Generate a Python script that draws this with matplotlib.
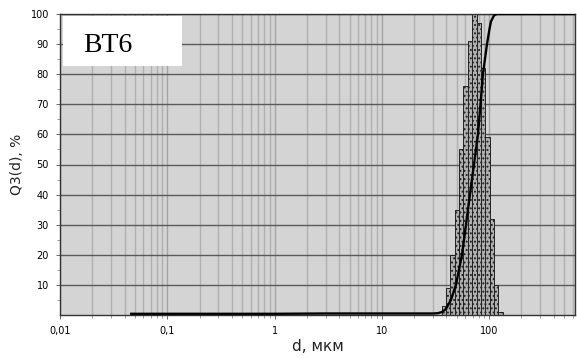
import matplotlib
matplotlib.use("Agg")
import matplotlib.pyplot as plt
from matplotlib.ticker import LogLocator, FixedLocator, NullFormatter, FuncFormatter
import numpy as np

# ---- data ----
bin_edges = [36.1, 39.6, 43.5, 47.8, 52.5, 57.6, 63.3, 69.5, 76.3, 83.8, 92.0, 101.0, 111.0, 122.0, 134.0]
bin_heights = [3, 9, 20, 35, 55, 76, 91, 100, 97, 82, 59, 32, 10, 1]

cum_d = [0.045, 0.1, 1.0, 3.0, 10.0, 30.0, 33.3, 36.3, 39.6, 44.0, 49.0, 55.8, 60.8, 66.2, 72.2,
         78.6, 83.0, 87.5, 95.4, 100.7, 103.9, 110.8, 118.0, 130.0, 631.0]
cum_q = [0.4, 0.4, 0.4, 0.5, 0.5, 0.5, 0.6, 1.0, 2.0, 5.0, 10.0, 20.0, 30.0, 40.0, 50.0,
         60.0, 70.0, 80.0, 90.0, 95.0, 97.5, 99.5, 100.0, 100.0, 100.0]

x_ticks = [0.01, 0.1, 1, 10, 100]
x_labels = ["0,01", "0,1", "1", "10", "100"]
y_ticks = [10, 20, 30, 40, 50, 60, 70, 80, 90, 100]

plt.rcParams['hatch.linewidth'] = 0.9

fig = plt.figure(figsize=(5.77, 3.58), dpi=100)
ax = fig.add_axes([60/577, 43/358, 515/577, 301/358])
ax.set_facecolor('#d4d4d4')

ax.set_xscale('log')
ax.set_xlim(0.01, 631)
ax.set_ylim(0, 100)

# grid
ax.xaxis.set_major_locator(FixedLocator(x_ticks))
ax.xaxis.set_minor_locator(LogLocator(base=10, subs=np.arange(2, 10), numticks=20))
ax.xaxis.set_major_formatter(FuncFormatter(lambda v, p: x_labels[x_ticks.index(v)] if v in x_ticks else ""))
ax.xaxis.set_minor_formatter(NullFormatter())
ax.yaxis.set_major_locator(FixedLocator(y_ticks))
ax.yaxis.set_minor_locator(FixedLocator(np.arange(5, 100, 5)))

ax.grid(True, which='major', axis='x', color='#a4a4a4', lw=1.0)
ax.grid(True, which='minor', axis='x', color='#b0b0b0', lw=1.0)
ax.grid(True, which='major', axis='y', color='#5a5a5a', lw=1.0)
ax.set_axisbelow(True)

ax.tick_params(axis='both', which='major', labelsize=7, length=3, width=0.6, color='#555555', pad=5)
ax.tick_params(axis='both', which='minor', length=2, width=0.5, color='#777777')

for s in ax.spines.values():
    s.set_color('#333333')
    s.set_linewidth(1.0)

# histogram
edges = np.array(bin_edges)
ax.bar(edges[:-1], bin_heights, width=np.diff(edges), align='edge',
       facecolor='#b0b0b0', edgecolor='#222222', hatch='....', linewidth=0.7, zorder=2)

# cumulative curve
ax.plot(cum_d, cum_q, color='black', lw=1.7, zorder=3, solid_capstyle='butt')

ax.set_xlabel('d, мкм', fontsize=11, labelpad=2, color='#222222')
ax.set_ylabel('Q3(d), %', fontsize=10, labelpad=5, color='#222222')

# label box
fig.patches.append(plt.Rectangle((63/577, 1 - 66/358), 119/577, 50/358,
                                 transform=fig.transFigure, facecolor='white',
                                 edgecolor='none', zorder=5))
fig.text(83/577, 1 - 52/358, 'BT6', fontsize=20, family='Liberation Serif',
         va='baseline', ha='left', zorder=6)

fig.savefig('out.png', dpi=100)
